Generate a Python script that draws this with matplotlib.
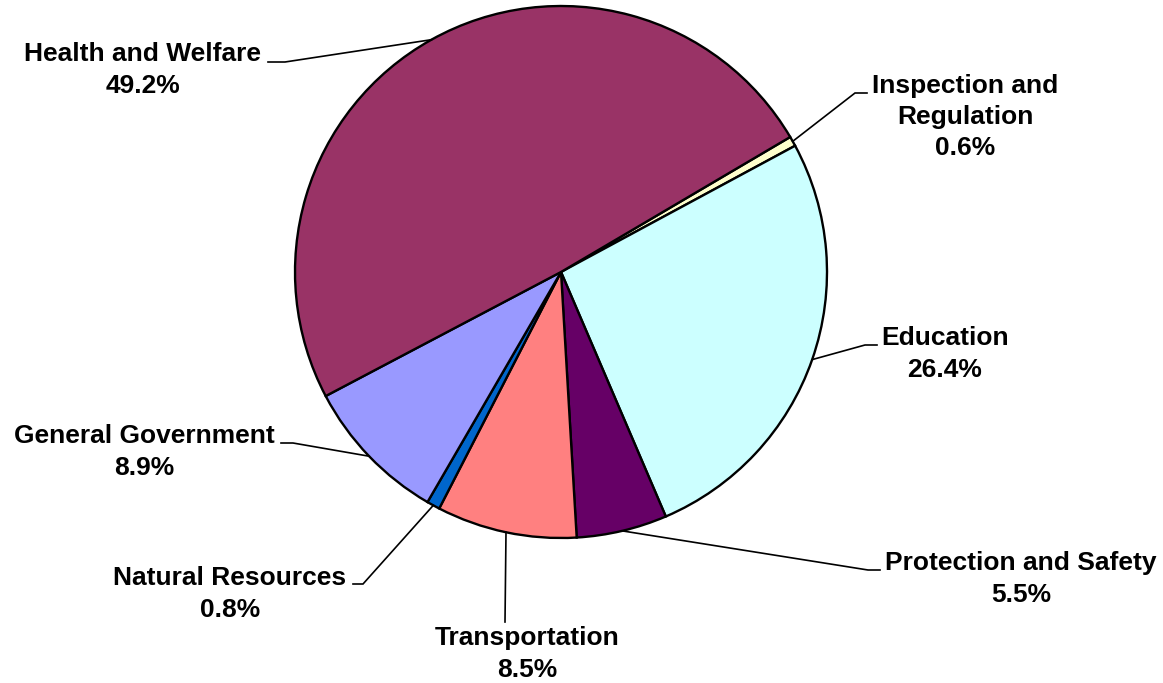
import numpy as np
import matplotlib
matplotlib.use("Agg")
import matplotlib.pyplot as plt

# data, clockwise from the Health/Inspection boundary
categories = ["Inspection and\nRegulation", "Education", "Protection and Safety",
              "Transportation", "Natural Resources", "General Government",
              "Health and Welfare"]
shares = [0.6, 26.4, 5.5, 8.5, 0.8, 8.9, 49.2]
colors = ["#FFFFCC", "#CCFFFF", "#660066", "#FF8080", "#0066CC", "#9999FF", "#993366"]

# label layout (pixel coords, y measured from top)
label_xy = [(965, 117), (945, 354), (1021, 579), (527, 654), (230, 594), (144, 452), (143, 70)]
elbows = [(855, 93), (865, 345), (868, 570), (505, 622), (363, 584), (293, 443), (285, 62)]
line_ends = [(867, 93), (877, 345), (880, 570), (505, 622), (353, 584), (281, 443), (268, 62)]

W, H = 1163, 683
cx, cy, r = 561, 272, 266
start = 30.5

fig = plt.figure(figsize=(W / 100, H / 100), dpi=100)
ax = fig.add_axes([0, 0, 1, 1])

wedges, _ = ax.pie(shares, colors=colors, startangle=start, counterclock=False,
                   center=(cx, H - cy), radius=r, frame=True,
                   wedgeprops=dict(edgecolor="black", linewidth=1.7))
ax.set_xlim(0, W)
ax.set_ylim(0, H)
ax.axis("off")

for w, name, val, (lx, ly), (ex, ey), (tx, ty) in zip(wedges, categories, shares,
                                                      label_xy, elbows, line_ends):
    mid = np.deg2rad((w.theta1 + w.theta2) / 2)
    px = cx + r * np.cos(mid)
    py = (H - cy) + r * np.sin(mid)
    ax.plot([px, ex, tx], [py, H - ey, H - ty], color="black", lw=1.2,
            solid_joinstyle="miter")
    ax.text(lx, H - ly, f"{name}\n{val:.1f}%", ha="center", va="center",
            fontsize=19, fontweight="bold", family=["Liberation Sans", "DejaVu Sans"],
            linespacing=1.38)

fig.savefig("out.png", dpi=100)
